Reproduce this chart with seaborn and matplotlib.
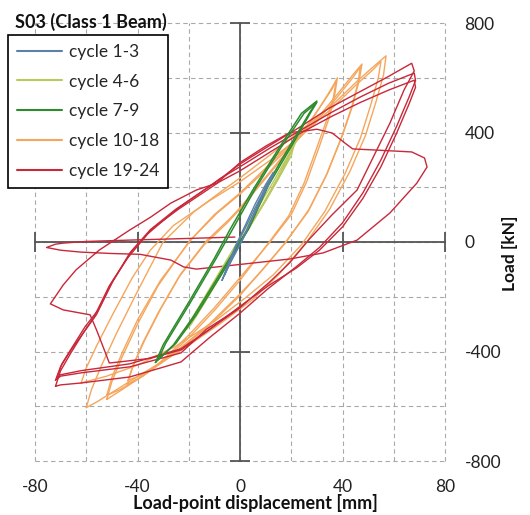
import matplotlib
matplotlib.use("Agg")
import matplotlib.pyplot as plt
from matplotlib.lines import Line2D
from matplotlib.ticker import MultipleLocator
import pandas as pd
import seaborn as sns

# ---------------- data ----------------
group_labels = ["cycle 1-3", "cycle 4-6", "cycle 7-9", "cycle 10-18", "cycle 19-24"]
group_colors = ["#5b80aa", "#b9c95c", "#2d8a2d", "#f5a65c", "#c8283a"]

# cycles 1-3
b1_x = [-7, -4, 0, 4, 8, 12, 13, 10, 6, 2, -2, -5, -7]
b1_y = [-140, -80, -10, 70, 150, 230, 255, 210, 140, 60, -20, -90, -140]
b2_x = [-6, -3, 1, 5, 9, 13, 11, 7, 3, -1, -4, -6]
b2_y = [-120, -60, 10, 90, 170, 245, 215, 145, 70, -5, -70, -120]

# cycles 4-6
y1_x = [-22, -18, -12, -5, 2, 9, 15, 20, 22, 19, 13, 6, -1, -8, -15, -20, -22]
y1_y = [-330, -270, -180, -75, 30, 140, 240, 330, 370, 320, 220, 110, 0, -110, -220, -300, -330]
y2_x = [-21, -17, -11, -4, 3, 10, 16, 21, 20, 14, 7, 0, -7, -14, -19, -21]
y2_y = [-320, -255, -165, -60, 45, 150, 250, 350, 315, 215, 105, -5, -115, -225, -300, -320]

# cycles 7-9
g1_x = [-33, -30, -20, -10, -4, 5, 15, 24, 30, 27, 20, 10, 2.7, -8, -18, -26, -33]
g1_y = [-440, -376, -220, -60, 44, 190, 340, 470, 515, 470, 360, 200, 44, -120, -270, -376, -440]
g2_x = [-32, -29, -19, -9, -3, 6, 16, 25, 30, 28, 21, 11, 3.5, -7, -17, -25, -32]
g2_y = [-430, -370, -215, -55, 45, 195, 345, 470, 510, 480, 365, 205, 50, -115, -265, -370, -430]

# cycles 10-18
ob1_x = [-44, -42, -38, -32, -24, -14, -5, 0, 8, 16, 24, 31, 36, 38,
         37, 35, 31, 26, 20, 11.7, 0, -10, -20, -30, -38, -44]
ob1_y = [-520, -460, -370, -260, -130, -10, 70, 120, 210, 300, 390, 490, 560, 600,
         540, 460, 350, 220, 100, 0, -130, -240, -340, -430, -490, -520]
ob2_x = [-43.7, -41.5, -37, -31, -23, -13, -4, 0, 8, 16, 24, 31, 35, 37.5,
         36.5, 34, 30, 25, 19, 11, 0, -10, -20, -30, -38, -43.7]
ob2_y = [-505, -445, -355, -245, -115, 5, 85, 125, 215, 305, 395, 490, 550, 590,
         530, 450, 345, 215, 95, -5, -140, -250, -350, -435, -485, -505]
oc1_x = [-52, -50, -46, -40, -32, -20, -10, 0, 10, 20, 30, 38, 44, 47.6,
         46.5, 44, 40, 34, 27, 18, 8, 0, -12, -25, -38, -47, -52]
oc1_y = [-575, -510, -420, -300, -160, 0, 100, 179, 270, 360, 450, 540, 610, 650,
         590, 500, 390, 250, 120, 0, -110, -190, -300, -400, -490, -545, -575]
oc2_x = [-52, -50, -46, -40, -31, -19, -9, 0, 10, 20, 30, 38, 44, 47,
         46, 43.5, 39.5, 33.5, 26.5, 17, 7, 0, -12, -25, -38, -47, -52]
oc2_y = [-560, -495, -405, -285, -140, 10, 105, 175, 262, 352, 442, 530, 600, 640,
         580, 490, 380, 240, 110, -10, -120, -195, -305, -405, -490, -540, -560]
od1_x = [-60, -58, -54, -48, -40, -30, -18, -8, 0, 12, 24, 36, 46, 52, 57,
         56, 53, 49, 43, 35, 26, 15, 5, -8, -22, -38, -50, -56, -60]
od1_y = [-605, -540, -450, -330, -180, 0, 110, 180, 234, 320, 410, 500, 590, 640, 680,
         610, 510, 390, 260, 120, 0, -120, -210, -300, -390, -480, -550, -585, -605]
oe1_x = [-62, -60, -56, -50, -42, -35, -26, -12, 0, 12, 24, 36, 46, 52, 55,
         54, 51, 47, 41, 33, 24, 13, 2, -10, -25, -40, -52, -58, -62]
oe1_y = [-515, -460, -380, -270, -130, -30, 60, 150, 220, 300, 390, 490, 580, 630, 660,
         600, 500, 380, 250, 110, -10, -120, -205, -290, -380, -450, -490, -505, -515]

# cycles 19-24
r1_x = [-72, -70, -66, -61, -57, -51, -44, -36, -26, -19.5, -10, 0, 12, 23.4, 35, 46, 58, 67,
        68, 64, 58.5, 52, 45.7, 36, 27, 19.5, 11.7, 0, -13, -23, -43, -62, -70, -72]
r1_y = [-505, -455, -395, -330, -275, -160, -60, 30, 110, 155, 215, 285, 355, 420, 490, 545, 605, 653,
        625, 555, 434, 310, 190, 100, 10, -75, -145, -240, -318, -405, -456, -478, -490, -505]
r2_x = [-72, -70, -66, -61, -56, -50, -43, -35, -25, -17, -8, 0, 12, 24, 36, 47, 58, 68,
        68.5, 66, 61, 55, 48, 40, 31, 22, 11, 0, -12, -23, -43, -62, -70, -72]
r2_y = [-527, -470, -405, -330, -265, -150, -40, 45, 120, 170, 230, 275, 345, 410, 475, 530, 580, 617,
        590, 530, 420, 300, 180, 70, -20, -90, -170, -260, -350, -438, -493, -515, -522, -527]
r3_x = [-71.5, -69.5, -65.5, -60.5, -55.5, -49.5, -42, -34, -24, -16, -8, 0, 12, 24, 36, 47, 58, 68,
        68.5, 66, 61, 55, 48, 40, 31, 22, 11, 0, -12, -23, -43, -62, -70, -71.5]
r3_y = [-497, -445, -385, -310, -250, -140, -30, 50, 120, 170, 220, 260, 330, 400, 460, 510, 555, 591,
        565, 505, 395, 275, 160, 55, -30, -95, -160, -235, -320, -390, -445, -470, -485, -497]
rf_x = [0, -12, -23, -35, -47, -51, -54, -56, -58.5, -69, -74, -69, -64, -55, -43, -35, -27,
        -17, -9, 0, 10, 19.5, 25, 30, 36, 41, 44, 52.7, 67, 72, 73, 69, 58.5, 45.7, 32.4,
        19.5, 0, -17, -22, -27, -39, -50, -62, -70, -75.5, -72, -69, -60, -43, -20, -2]
rf_y = [-240, -320, -394, -425, -438, -442, -369, -321, -266, -248, -226, -157, -102, -30, 44, 90, 142,
        190, 215, 290, 350, 400, 405, 412, 398, 361, 340, 336, 329, 307, 274, 215, 106, 7, -40,
        -62, -82, -99, -91, -66, -45, -42, -37, -30, -20, -8, -4, 2, 7, 13, 18]

x_ticks = [-80, -40, 0, 40, 80]
y_ticks = [-800, -400, 0, 400, 800]

groups = {
    "cycle 1-3": [(b1_x, b1_y), (b2_x, b2_y)],
    "cycle 4-6": [(y1_x, y1_y), (y2_x, y2_y)],
    "cycle 7-9": [(g1_x, g1_y), (g2_x, g2_y)],
    "cycle 10-18": [(ob1_x, ob1_y), (ob2_x, ob2_y), (oc1_x, oc1_y), (oc2_x, oc2_y),
                    (od1_x, od1_y), (oe1_x, oe1_y)],
    "cycle 19-24": [(r1_x, r1_y), (r2_x, r2_y), (r3_x, r3_y), (rf_x, rf_y)],
}

rows = []
for g, loops in groups.items():
    for i, (xs, ys) in enumerate(loops):
        for k, (xv, yv) in enumerate(zip(xs, ys)):
            rows.append({"group": g, "loop": f"{g}-{i}", "order": k, "x": xv, "y": yv})
df = pd.DataFrame(rows)

# ---------------- style ----------------
sns.set_theme(style="white")
plt.rcParams["font.family"] = ["Lato", "DejaVu Sans"]
plt.rcParams["axes.unicode_minus"] = False

fig = plt.figure(figsize=(5.30, 5.15), dpi=100)
ax = fig.add_axes([35 / 530, 1 - 461 / 515, 410 / 530, 438 / 515])

color_of = dict(zip(group_labels, group_colors))
lw_of = {"cycle 1-3": 1.0, "cycle 4-6": 1.0, "cycle 7-9": 1.1, "cycle 10-18": 1.0, "cycle 19-24": 1.0}
draw_order = ["cycle 10-18", "cycle 19-24", "cycle 4-6", "cycle 7-9", "cycle 1-3"]
for g in draw_order:
    sub = df[df["group"] == g]
    sns.lineplot(data=sub, x="x", y="y", units="loop", estimator=None, sort=False,
                 color=color_of[g], linewidth=lw_of[g], ax=ax, legend=False)

ax.set_xlim(-80, 80)
ax.set_ylim(-800, 800)
ax.set_xlabel("")
ax.set_ylabel("")

# axes crossing at the origin
spine_col = "#555555"
for s in ["top", "right"]:
    ax.spines[s].set_visible(False)
ax.spines["left"].set_position(("data", 0))
ax.spines["bottom"].set_position(("data", 0))
for s in ["left", "bottom"]:
    ax.spines[s].set_color(spine_col)
    ax.spines[s].set_linewidth(1.3)
    ax.spines[s].set_zorder(1.5)

ax.xaxis.set_major_locator(MultipleLocator(40))
ax.yaxis.set_major_locator(MultipleLocator(400))
ax.xaxis.set_minor_locator(MultipleLocator(20))
ax.yaxis.set_minor_locator(MultipleLocator(200))
ax.tick_params(which="major", direction="inout", length=14, width=1.3, color=spine_col,
               labelbottom=False, labelleft=False, bottom=True, left=True)
ax.tick_params(which="minor", length=0)

ax.set_axisbelow(True)
ax.grid(which="both", color="#a9a9a9", linestyle=(0, (4, 3)), linewidth=0.8)
for gl in ax.get_xgridlines() + ax.get_ygridlines():
    gl.set_clip_on(False)

# tick labels at the bottom and on the right
secx = ax.secondary_xaxis("bottom")
secx.set_xticks(x_ticks)
secx.tick_params(length=0, pad=13, labelsize=12.5, colors="#222222")
secx.spines["bottom"].set_visible(False)

secy = ax.secondary_yaxis("right")
secy.set_yticks(y_ticks)
secy.tick_params(length=0, pad=14, labelsize=12.5, colors="#222222")
secy.spines["right"].set_visible(False)

fig.text(510 / 530, 1 - 253 / 515, "Load [kN]", ha="center", va="center", rotation=90,
         fontsize=12.5, fontweight="bold", color="#111111")
fig.text(255 / 530, 1 - 503 / 515, "Load-point displacement [mm]", ha="center", va="center",
         fontsize=13, fontweight="bold", color="#111111")
fig.text(15 / 530, 1 - 22 / 515, "S03 (Class 1 Beam)", ha="left", va="center",
         fontsize=13, fontweight="bold", color="#111111")

handles = [Line2D([], [], color=color_of[g], linewidth=1.5) for g in group_labels]
leg = ax.legend(handles, group_labels, loc="upper left",
                bbox_to_anchor=(8 / 530, 1 - 35 / 515), bbox_transform=fig.transFigure,
                frameon=True, fancybox=False, edgecolor="black", framealpha=1,
                fontsize=12.5, handlelength=2.6, labelspacing=0.8, borderpad=0.5,
                handletextpad=0.4, borderaxespad=0)
leg.get_frame().set_linewidth(1.2)
leg.set_zorder(10)

fig.savefig("out.png", dpi=100)
